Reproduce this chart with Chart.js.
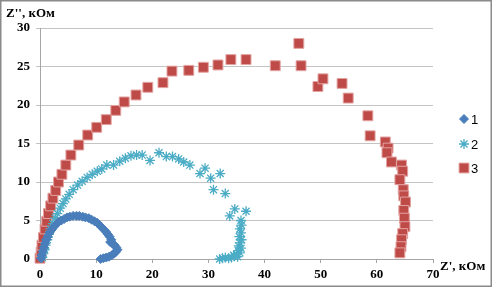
<!DOCTYPE html>
<html>
<head>
<meta charset="utf-8">
<title>Nyquist plot</title>
<script src="https://cdn.jsdelivr.net/npm/chart.js@4.4.0/dist/chart.umd.min.js"></script>
<style>
    html, body { margin: 0; padding: 0; background: #fff; }
    canvas { display: block; }
</style>
</head>
<body>
<canvas id="chart" width="492" height="287"></canvas>
<script>
// Series 1 (blue diamonds), Z' and Z'' in kOhm
const series1X = [0.2, 0.3, 0.5, 0.7, 0.9, 1.1, 1.4, 1.7, 2.1, 2.5, 2.9, 3.3, 3.8, 4.3, 4.8, 5.3, 5.9, 6.5, 7.0, 7.6, 8.1, 8.7, 9.2, 9.7, 10.2, 10.6, 11.0, 11.4, 11.8, 12.1, 12.4, 12.7, 12.5, 12.9, 13.3, 13.6, 13.8, 13.5, 13.2, 12.8, 12.3, 11.8, 11.3, 10.8];
const series1Y = [0.1, 0.5, 1.0, 1.5, 2.0, 2.5, 2.9, 3.4, 3.8, 4.2, 4.5, 4.8, 5.0, 5.2, 5.4, 5.5, 5.6, 5.6, 5.6, 5.5, 5.4, 5.3, 5.1, 4.9, 4.7, 4.4, 4.1, 3.8, 3.5, 3.2, 2.9, 2.5, 2.2, 2.0, 1.8, 1.5, 1.2, 0.9, 0.7, 0.5, 0.3, 0.2, 0.1, 0.0];

// Series 2 (cyan stars)
const series2X = [0.4, 0.6, 0.8, 1.0, 1.3, 1.6, 1.9, 2.3, 2.7, 3.1, 3.6, 4.1, 4.6, 5.2, 5.9, 6.7, 7.5, 8.4, 9.3, 10.2, 11.0, 11.9, 13.1, 14.2, 15.2, 16.2, 17.2, 18.2, 19.6, 21.2, 22.5, 23.6, 24.7, 25.6, 26.7, 28.5, 29.4, 30.4, 32.1, 30.9, 33.0, 33.8, 34.7, 36.7, 35.8, 35.9, 35.6, 35.8, 35.5, 35.9, 35.6, 35.4, 35.8, 35.3, 35.6, 35.0, 34.6, 35.2, 34.1, 33.6, 34.5, 33.0, 32.5, 32.0];
const series2Y = [0.2, 0.7, 1.2, 1.8, 2.5, 3.2, 3.9, 4.6, 5.3, 5.9, 6.6, 7.2, 7.8, 8.4, 9.0, 9.6, 10.1, 10.6, 11.0, 11.4, 11.7, 12.2, 12.2, 12.7, 13.1, 13.4, 13.5, 13.5, 12.8, 13.8, 13.3, 13.3, 13.0, 12.6, 12.2, 11.1, 11.8, 10.5, 11.1, 9.0, 8.5, 5.6, 6.5, 6.2, 5.0, 4.4, 3.9, 3.4, 2.9, 2.5, 2.1, 1.7, 1.4, 1.1, 0.8, 0.6, 0.4, 0.3, 0.2, 0.1, 0.5, 0.2, 0.1, 0.0];

// Series 3 (red squares)
const series3X = [0.0, 0.2, 0.35, 0.6, 0.9, 1.2, 1.5, 1.9, 2.3, 2.8, 3.3, 3.9, 4.6, 5.5, 6.9, 8.5, 10.1, 11.8, 13.5, 15.0, 17.1, 19.2, 21.9, 23.5, 26.5, 29.1, 31.7, 34.0, 36.7, 41.9, 46.1, 46.5, 49.5, 50.4, 53.8, 54.9, 58.4, 58.8, 61.5, 62.0, 61.8, 62.6, 64.4, 64.6, 64.1, 64.7, 64.8, 65.1, 64.8, 64.9, 65.0, 64.6, 64.4, 64.3, 64.1];
const series3Y = [0.1, 0.9, 1.8, 2.8, 3.9, 4.9, 5.9, 6.9, 7.9, 8.9, 10.0, 11.0, 12.2, 13.5, 14.8, 16.1, 17.1, 18.1, 19.3, 20.4, 21.3, 22.3, 22.9, 24.4, 24.5, 24.9, 25.2, 25.9, 25.9, 25.1, 28.0, 25.1, 22.4, 23.4, 22.8, 20.9, 18.6, 16.0, 15.2, 14.4, 13.8, 12.6, 12.2, 11.4, 10.3, 9.0, 8.2, 7.4, 6.3, 5.3, 4.2, 3.3, 2.5, 1.6, 0.8];

const seriesLabels = ['1', '2', '3'];
const xTicks = [0, 10, 20, 30, 40, 50, 60, 70];
const yTicks = [0, 5, 10, 15, 20, 25, 30];

function toPoints(xs, ys) {
    return xs.map((x, i) => ({ x: x, y: ys[i] }));
}

const tickFont = { family: "'Liberation Serif', 'Times New Roman', serif", weight: 'bold', size: 13 };

// axis titles, legend and outer frame drawn on top of the chart
const decorPlugin = {
    id: 'decor',
    afterDraw(chart) {
        const ctx = chart.ctx;
        ctx.save();
        ctx.fillStyle = '#000';
        ctx.font = "bold 13px 'Liberation Serif', serif";
        ctx.textBaseline = 'middle';
        ctx.textAlign = 'left';
        ctx.fillText("Z'', кОм", 6, 14);
        ctx.fillText("Z', кОм", 440, 267);

        // legend
        const legendY = [119, 144, 168];
        chart.data.datasets.forEach((ds, i) => {
            ctx.fillStyle = ds.backgroundColor;
            ctx.strokeStyle = ds.borderColor;
            ctx.lineWidth = ds.borderWidth;
            Chart.helpers.drawPoint(ctx, {
                pointStyle: ds.pointStyle,
                radius: ds.pointRadius,
                borderWidth: ds.borderWidth,
                rotation: 0
            }, 464, legendY[i]);
            ctx.fillStyle = '#000';
            ctx.font = "13px 'Liberation Sans', Arial, sans-serif";
            ctx.fillText(ds.label, 471, legendY[i] + 1);
        });

        ctx.strokeStyle = '#8a8a8a';
        ctx.lineWidth = 1.5;
        ctx.strokeRect(0.75, 0.75, chart.width - 1.5, chart.height - 1.5);
        ctx.restore();
    }
};

const chart = new Chart(document.getElementById('chart'), {
    type: 'scatter',
    data: {
        datasets: [
            {
                label: seriesLabels[0],
                data: toPoints(series1X, series1Y),
                pointStyle: 'rectRot',
                pointRadius: 4.5,
                backgroundColor: '#4A7EBB',
                borderColor: '#4A7EBB',
                borderWidth: 1
            },
            {
                label: seriesLabels[1],
                data: toPoints(series2X, series2Y),
                pointStyle: 'star',
                pointRadius: 5,
                backgroundColor: '#4BACC6',
                borderColor: '#4BACC6',
                borderWidth: 1.3
            },
            {
                label: seriesLabels[2],
                data: toPoints(series3X, series3Y),
                pointStyle: 'rect',
                pointRadius: 7,
                backgroundColor: '#BE4B48',
                borderColor: '#E3A3A1',
                borderWidth: 1
            }
        ]
    },
    options: {
        responsive: false,
        animation: false,
        devicePixelRatio: 1,
        clip: false,
        layout: { padding: { top: 28, right: 59, bottom: 0, left: 0 } },
        plugins: {
            legend: { display: false },
            tooltip: { enabled: false }
        },
        scales: {
            x: {
                type: 'linear',
                min: xTicks[0],
                max: xTicks[xTicks.length - 1],
                afterBuildTicks: s => { s.ticks = xTicks.map(v => ({ value: v })); },
                afterFit: s => { s.height = 28; },
                ticks: { color: '#000', font: tickFont, padding: 4, maxRotation: 0 },
                grid: { drawOnChartArea: false, drawTicks: true, tickLength: 4, color: '#a6a6a6' },
                border: { color: '#a6a6a6' }
            },
            y: {
                min: yTicks[0],
                max: yTicks[yTicks.length - 1],
                afterBuildTicks: s => { s.ticks = yTicks.map(v => ({ value: v })); },
                afterFit: s => { s.width = 40; },
                ticks: { color: '#000', font: tickFont, padding: 6 },
                grid: { color: '#c4c4c4', tickLength: 4 },
                border: { color: '#a6a6a6' }
            }
        }
    },
    plugins: [decorPlugin]
});
</script>
</body>
</html>
